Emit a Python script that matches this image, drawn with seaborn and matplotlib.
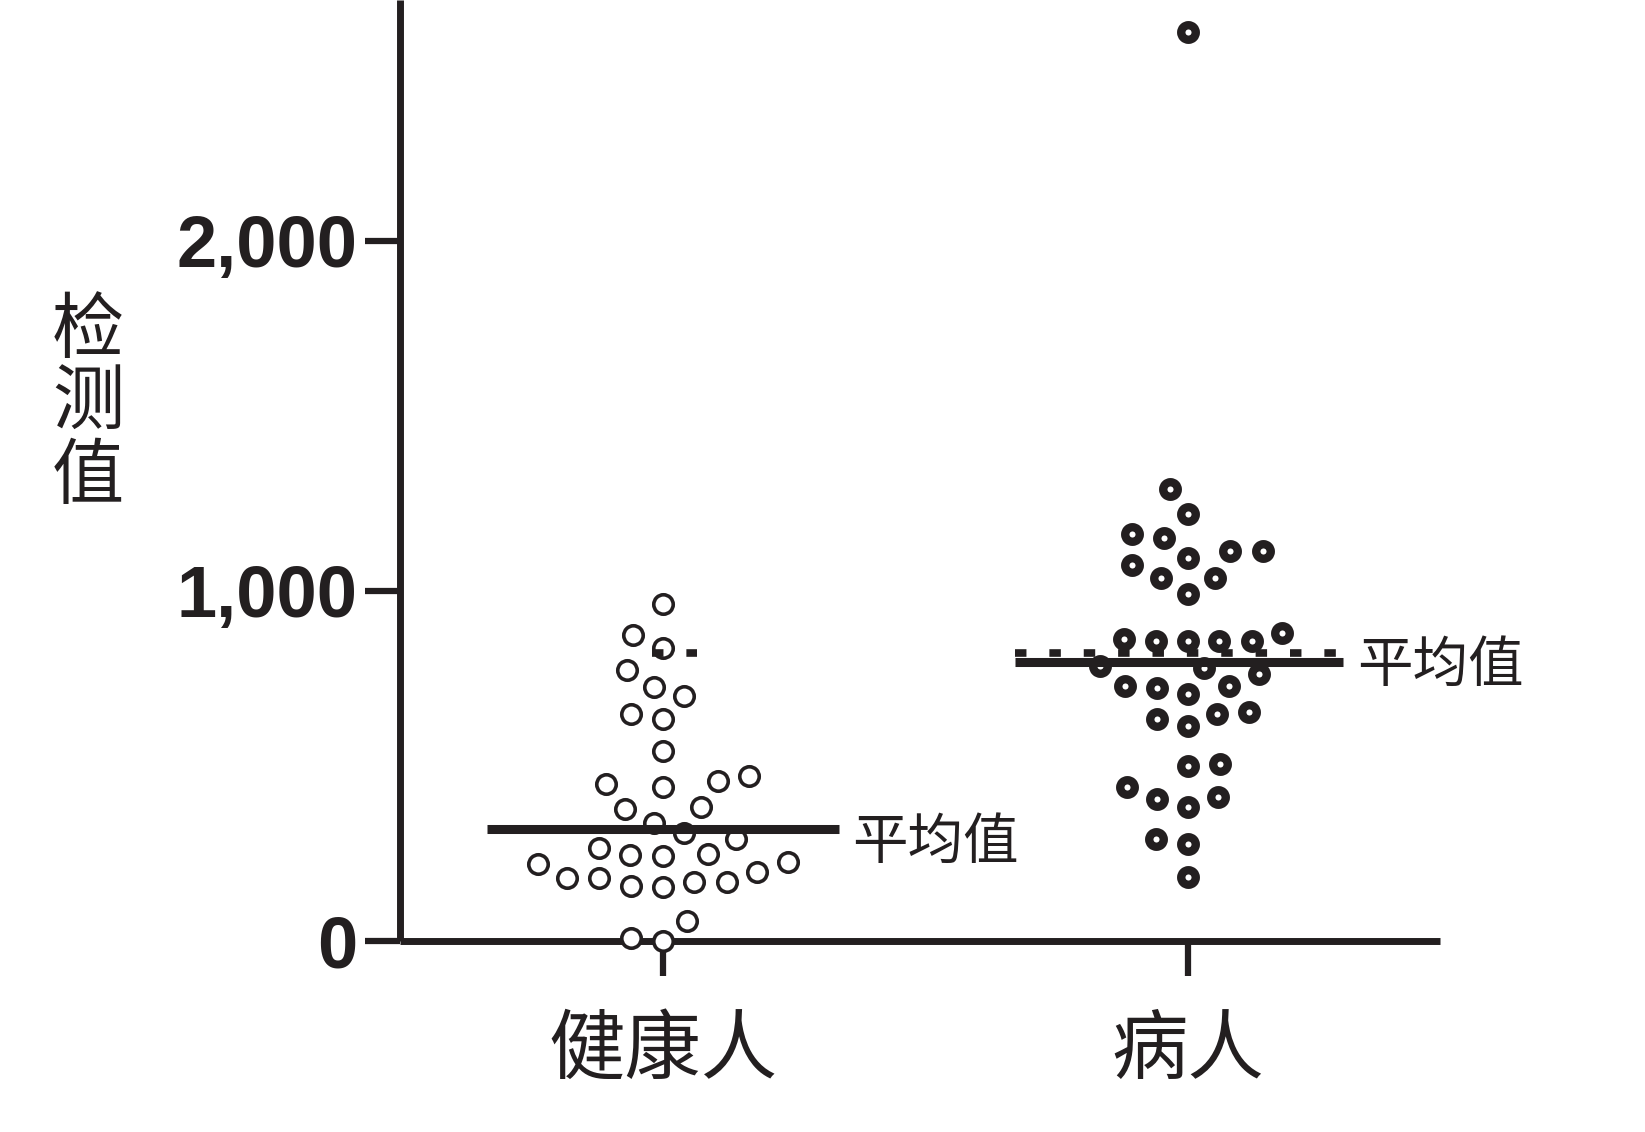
import matplotlib
matplotlib.use("Agg")
import matplotlib.pyplot as plt
import matplotlib.ticker as mticker
import pandas as pd
import seaborn as sns

# ---------------------------------------------------------------------------
# data
# ---------------------------------------------------------------------------
GROUPS = ["健康人", "病人"]
HEALTHY = [962, 873, 838, 774, 726, 700, 648, 635, 543, 472, 448, 439, 458,
           383, 377, 336, 308, 291, 248, 246, 244, 267, 220, 225, 179, 168,
           153, 158, 168, 179, 198, 58, 0, 10]
PATIENT = [2597, 1292, 1219, 1164, 1152, 1114, 1095, 1114, 1073, 1038, 1038,
           990, 881, 857, 857, 857, 857, 862, 781, 786, 762, 729, 724, 705,
           729, 648, 614, 634, 653, 500, 505, 405, 382, 410, 439, 291, 277,
           182]
MEAN_LEVEL = [320, 798]      # drawn "平均值" bars
DASHED_LEVEL = 824           # dotted reference line
Y_TICKS = [0, 1000, 2000]
MEAN_LABEL = "平均值"
Y_LABEL = "检测值"

BLACK = "#231f20"
CJK = ["Noto Sans CJK SC", "DejaVu Sans"]

sns.set_style("ticks")
plt.rcParams["font.family"] = CJK

df = pd.DataFrame({
    "group": [GROUPS[0]] * len(HEALTHY) + [GROUPS[1]] * len(PATIENT),
    "value": HEALTHY + PATIENT,
})

fig = plt.figure(figsize=(16.45, 11.32), dpi=100)
ax = fig.add_axes([0.2432, 0.1687, 0.6322, 0.8313])

# (layout size, drawn size, edge width) per group: the swarm is laid out
# with a roomier marker so it spreads like the original, then shrunk
marker_style = [(19.5, 14.0, 2.6), (16.0, 10.5, 6.0)]
swarms = []
for g, (layout_size, _, lw) in zip(GROUPS, marker_style):
    n0 = len(ax.collections)
    sns.swarmplot(data=df[df["group"] == g], x="group", y="value",
                  order=GROUPS, size=layout_size, color="white",
                  edgecolor=BLACK, linewidth=lw, ax=ax, clip_on=False,
                  zorder=3)
    swarms.append(ax.collections[n0:])

# mean bars + labels
half_left = [0.335, 0.33]
half_right = [0.335, 0.295]
label_dy = [-10, -3]
for i, lvl in enumerate(MEAN_LEVEL):
    ax.hlines(lvl, i - half_left[i], i + half_right[i], colors=BLACK,
              linewidth=6.5, capstyle="butt", zorder=5)
    ax.annotate(MEAN_LABEL, xy=(i + half_right[i], lvl),
                xytext=(10, label_dy[i]), textcoords="offset points",
                ha="left", va="center", fontsize=40, color=BLACK, family=CJK)

# dotted reference line (patient span + small fragment near healthy)
ax.plot([1 - half_left[1], 1 + half_right[1]], [DASHED_LEVEL] * 2,
        color=BLACK, linewidth=5.5, dashes=(1.5, 3.0), dash_capstyle="butt",
        zorder=5)
ax.plot([-0.02, 0.065], [DASHED_LEVEL] * 2, color=BLACK, linewidth=5.5,
        dashes=(1.5, 3.0), dash_capstyle="butt", zorder=5)

# axes styling
ax.set_xlim(-0.5, 1.48)
ax.set_ylim(0, 2688)
ax.set_yticks(Y_TICKS)
ax.yaxis.set_major_formatter(mticker.FuncFormatter(lambda v, _: f"{v:,.0f}"))
ax.set_xlabel("")
ax.set_ylabel("")
for side in ["top", "right"]:
    ax.spines[side].set_visible(False)
for side in ["left", "bottom"]:
    ax.spines[side].set_linewidth(5)
    ax.spines[side].set_color(BLACK)
    ax.spines[side].set_capstyle("butt")

ax.tick_params(axis="y", length=25, width=4.5, color=BLACK, pad=6,
               labelsize=52, labelcolor=BLACK)
ax.tick_params(axis="x", length=25, width=4.5, color=BLACK, pad=26,
               labelsize=55, labelcolor=BLACK)
for lab in ax.get_yticklabels():
    lab.set_fontfamily("Liberation Sans")
    lab.set_fontweight("bold")

fig.text(88 / 1645, 1 - 404 / 1132, "\n".join(Y_LABEL), ha="center",
         va="center", fontsize=52, linespacing=1.0, color=BLACK, family=CJK)

# freeze the swarm layout, then draw the markers at their real size
fig.canvas.draw()
for colls, (_, size, _) in zip(swarms, marker_style):
    for coll in colls:
        coll.__dict__.pop("draw", None)
        coll.set_sizes([size ** 2])

fig.savefig("out.png", dpi=100)
